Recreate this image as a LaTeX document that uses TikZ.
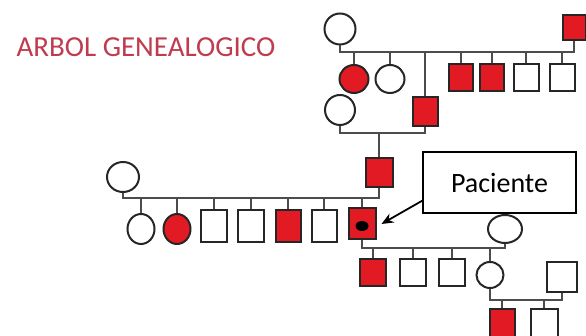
\documentclass[tikz,border=0pt]{standalone}
\usepackage{fontspec}
\setmainfont{Carlito}
\usepackage{xcolor}
\usetikzlibrary{shapes.geometric, arrows.meta, positioning}
\definecolor{afectado}{RGB}{226,26,36}
\definecolor{titulo}{RGB}{190,60,78}

\begin{document}
\begin{tikzpicture}[x=1pt, y=-1pt]
\tikzstyle{mujer} = [ellipse, draw=black!85, line width=2pt, minimum width=29pt, minimum height=28pt, inner sep=0pt]
\tikzstyle{hombre} = [rectangle, draw=black!85, line width=2pt, minimum width=25pt, minimum height=28pt, inner sep=0pt]
\tikzstyle{afect} = [fill=afectado]
\tikzstyle{linea} = [black!70, line width=1.2pt]
\tikzstyle{flecha} = [line width=1.8pt, -{Stealth[length=12pt, width=10pt]}]

\useasboundingbox (0,0) rectangle (586,336);

\node (titulo) [anchor=west, text=titulo, font=\fontsize{29}{34}\selectfont] at (13,47) {ARBOL GENEALOGICO};

\node (i1) [mujer, minimum width=31pt, minimum height=31pt] at (340,29) {};
\node (i2) [hombre, afect, minimum width=23pt, minimum height=25pt] at (574,28) {};

\node (ii1) [mujer, afect] at (354,79) {};
\node (ii2) [mujer] at (390,79) {};
\node (ii3) [hombre, afect, minimum height=29pt] at (425,112) {};
\node (ii4) [hombre, afect, minimum width=24pt, minimum height=27pt] at (461,78) {};
\node (ii5) [hombre, afect, minimum width=24pt, minimum height=27pt] at (492,78) {};
\node (ii6) [hombre, minimum width=25pt, minimum height=27pt] at (526,78) {};
\node (ii7) [hombre, minimum width=25pt, minimum height=27pt] at (562,78) {};
\node (iiw) [mujer, minimum width=30pt, minimum height=30pt] at (340,110) {};

\node (iii0) [hombre, afect, minimum width=27pt, minimum height=29pt] at (379,173) {};
\node (iiiw) [mujer, minimum width=32pt, minimum height=30pt] at (123,177) {};

\node (c1) [mujer, minimum width=27pt, minimum height=30pt] at (141,229) {};
\node (c2) [mujer, afect, minimum width=27pt, minimum height=30pt] at (177,229) {};
\node (c3) [hombre, minimum width=26pt, minimum height=32pt] at (214,226) {};
\node (c4) [hombre, minimum width=26pt, minimum height=32pt] at (251,226) {};
\node (c5) [hombre, afect, minimum width=25pt, minimum height=32pt] at (288,226) {};
\node (c6) [hombre, minimum width=25pt, minimum height=32pt] at (324,226) {};
\node (pat) [hombre, afect, minimum width=27pt, minimum height=31pt] at (362,224) {};
\node (punto) [ellipse, fill=black, minimum width=13pt, minimum height=10pt, inner sep=0pt] at (362,226) {};

\node (pw) [mujer, minimum width=34pt, minimum height=28pt] at (505,229) {};

\node (iv1) [hombre, afect, minimum width=26pt, minimum height=27pt] at (373,273) {};
\node (iv2) [hombre, minimum width=26pt, minimum height=27pt] at (413,273) {};
\node (iv3) [hombre, minimum width=26pt, minimum height=27pt] at (452,273) {};
\node (iv4) [mujer, minimum width=27pt, minimum height=26pt] at (490,275) {};
\node (ivh) [hombre, minimum width=30pt, minimum height=30pt] at (562,277) {};

\node (v1) [hombre, afect, minimum width=25pt, minimum height=28pt] at (502,323) {};
\node (v2) [hombre, minimum width=27pt, minimum height=28pt] at (544,323) {};

\node (nota) [draw, line width=1.2pt, minimum width=153pt, minimum height=61pt, font=\fontsize{28}{32}\selectfont] at (499.5,182.5) {Paciente};

\coordinate (m1) at (0,52);
\coordinate (m2) at (0,133);
\coordinate (m3) at (0,198);
\coordinate (m4) at (0,248);
\coordinate (m5) at (0,300);

\draw [linea] (i1.south) |- (m1 -| i2.south) -- (i2.south);
\foreach \n in {ii1,ii2,ii3,ii4,ii5,ii6,ii7}
  \draw [linea] (\n.north) -- (\n.north |- m1);

\draw [linea] (iiw.south) |- (m2 -| ii3.south) -- (ii3.south);
\draw [linea] (iii0.north) -- (iii0.north |- m2);

\draw [linea] (iiiw.south) |- (m3 -| iii0.south) -- (iii0.south);
\foreach \n in {c1,c2,c3,c4,c5,c6,pat}
  \draw [linea] (\n.north) -- (\n.north |- m3);

\draw [linea] (pat.south) |- (m4 -| pw.south) -- (pw.south);
\foreach \n in {iv1,iv2,iv3,iv4}
  \draw [linea] (\n.north) -- (\n.north |- m4);

\draw [linea] (iv4.south) |- (m5 -| ivh.south) -- (ivh.south);
\foreach \n in {v1,v2}
  \draw [linea] (\n.north) -- (\n.north |- m5);

\draw [flecha] ([yshift=13pt]nota.south west) -- ([xshift=5pt]pat.east);
\end{tikzpicture}
\end{document}
